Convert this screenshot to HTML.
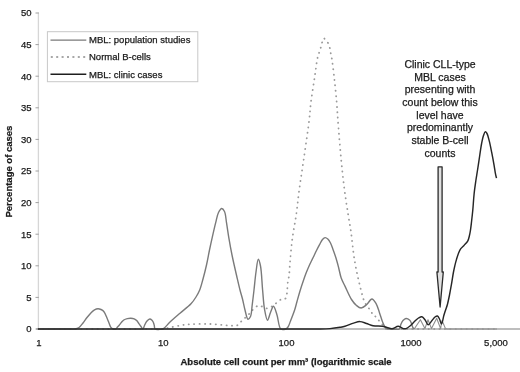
<!DOCTYPE html>
<html><head><meta charset="utf-8"><style>
html,body{margin:0;padding:0;background:#fff;}
svg{display:block;filter:grayscale(1);}
text{font-family:"Liberation Sans",sans-serif;fill:#1a1a1a;stroke:#1a1a1a;stroke-width:0.25px;}
.ax{font-size:9.5px;}
.lg{font-size:9.5px;}
.an{font-size:10.5px;}
.ti{font-size:9.5px;font-weight:bold;}
</style></head><body>
<svg width="520" height="372" viewBox="0 0 520 372">
<rect width="520" height="372" fill="#fff"/>
<line x1="38.4" y1="12.5" x2="38.4" y2="329" stroke="#d6d6d6" stroke-width="1.3"/>
<line x1="35.5" y1="329.0" x2="38.8" y2="329.0" stroke="#a0a0a0" stroke-width="1"/>
<text x="31.5" y="332.4" text-anchor="end" class="ax">0</text>
<line x1="35.5" y1="297.4" x2="38.8" y2="297.4" stroke="#a0a0a0" stroke-width="1"/>
<text x="31.5" y="300.8" text-anchor="end" class="ax">5</text>
<line x1="35.5" y1="265.8" x2="38.8" y2="265.8" stroke="#a0a0a0" stroke-width="1"/>
<text x="31.5" y="269.2" text-anchor="end" class="ax">10</text>
<line x1="35.5" y1="234.2" x2="38.8" y2="234.2" stroke="#a0a0a0" stroke-width="1"/>
<text x="31.5" y="237.6" text-anchor="end" class="ax">15</text>
<line x1="35.5" y1="202.6" x2="38.8" y2="202.6" stroke="#a0a0a0" stroke-width="1"/>
<text x="31.5" y="206.0" text-anchor="end" class="ax">20</text>
<line x1="35.5" y1="171.0" x2="38.8" y2="171.0" stroke="#a0a0a0" stroke-width="1"/>
<text x="31.5" y="174.4" text-anchor="end" class="ax">25</text>
<line x1="35.5" y1="139.4" x2="38.8" y2="139.4" stroke="#a0a0a0" stroke-width="1"/>
<text x="31.5" y="142.8" text-anchor="end" class="ax">30</text>
<line x1="35.5" y1="107.8" x2="38.8" y2="107.8" stroke="#a0a0a0" stroke-width="1"/>
<text x="31.5" y="111.2" text-anchor="end" class="ax">35</text>
<line x1="35.5" y1="76.2" x2="38.8" y2="76.2" stroke="#a0a0a0" stroke-width="1"/>
<text x="31.5" y="79.6" text-anchor="end" class="ax">40</text>
<line x1="35.5" y1="44.6" x2="38.8" y2="44.6" stroke="#a0a0a0" stroke-width="1"/>
<text x="31.5" y="48.0" text-anchor="end" class="ax">45</text>
<line x1="35.5" y1="13.0" x2="38.8" y2="13.0" stroke="#a0a0a0" stroke-width="1"/>
<text x="31.5" y="16.4" text-anchor="end" class="ax">50</text>

<line x1="36" y1="329" x2="520" y2="329" stroke="#a8a8a8" stroke-width="1.5"/>
<text x="38.8" y="346.3" text-anchor="middle" class="ax">1</text>
<text x="163.2" y="346.3" text-anchor="middle" class="ax">10</text>
<text x="286.5" y="346.3" text-anchor="middle" class="ax">100</text>
<text x="411" y="346.3" text-anchor="middle" class="ax">1000</text>
<text x="496" y="346.3" text-anchor="middle" class="ax">5,000</text>

<path d="M414.2,329.0 L420.4,319.7 L424.9,328.6 L428.0,319.7 L431.5,328.6 L436.7,318.3 L440.6,328.6 L442.0,320.5 L445.5,328.6 L447.0,329.0 L497.0,329.0" fill="none" stroke="#8e8e8e" stroke-width="1.1" stroke-linejoin="round"/>

<path d="M38.00,329.00 C78.67,329.00 148.97,329.00 160.00,329.00 C161.73,329.00 161.88,329.11 163.00,329.00 C164.46,328.86 165.98,328.41 168.00,328.00 C171.14,327.36 176.07,326.14 180.00,325.50 C183.73,324.89 186.83,324.47 191.00,324.20 C196.47,323.85 203.85,323.78 210.00,324.00 C215.83,324.21 222.91,325.12 227.00,325.40 C229.30,325.56 230.64,325.72 232.40,325.70 C234.07,325.68 235.92,325.94 237.30,325.30 C238.64,324.68 239.41,323.14 240.60,322.00 C241.95,320.72 243.55,319.37 245.00,318.00 C246.48,316.61 248.06,315.14 249.40,313.70 C250.64,312.37 251.45,310.96 252.80,309.70 C254.33,308.27 256.48,306.08 258.20,305.70 C259.51,305.41 260.72,306.08 262.00,306.50 C263.39,306.95 264.83,308.35 266.20,308.40 C267.49,308.45 268.75,307.46 270.00,307.00 C271.22,306.56 272.44,306.44 273.60,305.70 C275.03,304.79 276.20,302.75 277.70,301.60 C279.15,300.49 280.91,299.44 282.40,298.90 C283.59,298.47 285.03,299.04 285.80,298.30 C286.78,297.36 286.69,295.02 287.00,292.90 C287.44,289.93 287.38,285.18 287.80,282.10 C288.11,279.77 288.67,278.44 289.00,276.00 C289.49,272.39 289.55,267.65 290.00,262.50 C290.60,255.60 291.35,246.34 292.40,238.30 C293.45,230.24 295.17,222.25 296.30,214.20 C297.43,206.15 298.07,198.49 299.20,190.00 C300.46,180.53 302.06,170.72 303.60,160.00 C305.37,147.63 307.94,130.63 309.20,120.00 C310.03,112.99 310.13,108.79 310.90,102.50 C311.81,95.07 313.37,85.95 314.50,78.30 C315.52,71.40 316.49,62.86 317.40,58.60 C317.85,56.51 318.21,55.60 318.70,54.00 C319.24,52.24 319.96,50.33 320.50,48.50 C321.03,46.70 321.32,44.83 321.90,43.10 C322.46,41.43 323.12,38.40 323.90,38.30 C324.53,38.22 325.27,40.18 326.00,41.00 C326.68,41.77 327.50,42.14 328.10,43.10 C328.94,44.45 329.55,46.86 330.00,48.70 C330.42,50.42 330.50,52.13 330.80,53.80 C331.10,55.43 331.44,56.45 331.80,58.60 C332.52,62.93 333.52,71.39 334.30,78.30 C335.16,85.95 336.08,95.08 336.70,102.50 C337.23,108.80 337.37,112.98 337.90,120.00 C338.70,130.62 340.01,147.63 341.20,160.00 C342.23,170.73 343.28,180.55 344.50,190.00 C345.60,198.51 346.94,206.76 348.10,214.20 C349.10,220.59 350.12,225.75 351.00,232.00 C351.97,238.91 352.77,247.90 353.60,253.90 C354.18,258.11 354.65,261.03 355.30,264.60 C355.95,268.20 356.72,271.81 357.50,275.40 C358.28,278.98 359.14,282.59 360.00,286.10 C360.84,289.52 361.76,293.37 362.60,296.20 C363.22,298.29 363.64,299.93 364.40,301.60 C365.12,303.18 366.02,304.59 367.00,306.00 C368.01,307.45 369.39,308.76 370.40,310.20 C371.38,311.59 372.47,314.40 373.00,314.50 C373.17,314.53 373.22,314.18 373.40,314.20 C373.98,314.27 375.50,316.75 376.60,318.00 C377.70,319.25 378.91,320.47 380.00,321.70 C381.04,322.87 382.01,324.00 383.00,325.20 C384.01,326.43 384.85,328.44 386.00,329.00 C386.91,329.44 387.29,329.00 389.00,329.00 C399.29,329.00 461.00,329.00 497.00,329.00" fill="none" stroke="#9a9a9a" stroke-width="1.8" stroke-dasharray="0.2 5.2" stroke-linecap="round"/>
<path d="M38.00,329.00 C48.67,329.00 63.96,329.00 70.00,329.00 C72.39,329.00 73.45,329.28 75.00,329.00 C76.43,328.74 77.76,328.35 79.00,327.50 C80.47,326.49 81.70,324.61 83.00,323.00 C84.38,321.29 85.62,319.25 87.00,317.50 C88.33,315.82 89.74,314.06 91.10,312.70 C92.24,311.56 93.29,310.47 94.50,309.80 C95.60,309.19 96.87,308.72 98.00,308.70 C99.04,308.68 100.06,309.05 101.00,309.50 C101.99,309.97 102.94,310.48 103.80,311.50 C105.10,313.03 106.25,316.35 107.20,318.50 C107.99,320.29 108.58,321.97 109.20,323.50 C109.73,324.80 110.00,326.15 110.70,327.10 C111.31,327.93 112.13,328.69 113.00,329.00 C113.84,329.30 115.04,329.35 115.80,329.00 C116.53,328.66 116.92,327.64 117.50,327.00 C118.06,326.38 118.61,325.89 119.20,325.20 C119.93,324.36 120.71,323.19 121.50,322.30 C122.24,321.47 122.88,320.61 123.80,320.00 C124.79,319.35 126.11,318.90 127.30,318.60 C128.45,318.31 129.64,318.16 130.80,318.20 C131.94,318.23 133.20,318.38 134.20,318.80 C135.15,319.20 135.96,319.86 136.70,320.60 C137.50,321.40 138.09,322.53 138.80,323.50 C139.52,324.49 140.29,325.55 141.00,326.50 C141.65,327.37 142.33,329.07 142.90,329.00 C143.55,328.92 143.97,326.47 144.60,325.20 C145.26,323.87 145.87,322.26 146.80,321.20 C147.64,320.24 148.86,319.05 149.80,319.00 C150.58,318.96 151.41,319.74 152.00,320.30 C152.57,320.84 152.94,321.53 153.30,322.30 C153.73,323.22 154.02,324.40 154.30,325.50 C154.59,326.63 154.25,328.32 155.00,329.00 C155.86,329.77 158.18,329.42 159.60,329.40 C160.82,329.38 161.78,329.59 163.00,329.00 C165.08,327.99 167.42,324.42 170.00,322.00 C173.00,319.19 176.58,316.17 180.00,313.20 C183.57,310.11 188.17,306.84 191.00,303.80 C193.16,301.48 194.53,299.34 196.00,297.00 C197.42,294.73 198.61,292.66 199.70,290.00 C201.01,286.80 201.93,282.90 203.00,279.00 C204.20,274.63 205.43,269.76 206.50,265.00 C207.60,260.10 208.51,254.76 209.50,250.00 C210.41,245.67 211.22,241.93 212.20,237.60 C213.27,232.83 214.55,227.10 215.70,222.60 C216.65,218.89 217.22,215.01 218.50,212.50 C219.40,210.75 220.65,208.54 221.70,208.50 C222.64,208.46 223.77,210.04 224.50,211.50 C225.72,213.93 225.84,218.62 226.50,222.60 C227.27,227.22 227.93,232.42 228.80,237.60 C229.74,243.19 230.76,248.91 232.00,255.00 C233.38,261.80 235.34,270.17 236.80,276.50 C237.96,281.53 238.96,285.96 240.00,290.00 C240.85,293.31 241.70,295.84 242.50,299.00 C243.38,302.47 244.04,306.51 245.00,310.00 C245.89,313.25 246.79,319.04 248.00,319.30 C248.75,319.46 249.85,317.88 250.50,316.50 C251.64,314.06 251.65,309.09 252.20,305.00 C252.82,300.34 253.40,295.23 254.00,290.00 C254.66,284.27 255.20,277.47 256.00,272.00 C256.67,267.39 257.40,259.36 258.30,259.30 C258.96,259.25 259.89,263.03 260.50,266.00 C261.63,271.49 261.89,282.47 262.60,290.00 C263.23,296.70 263.50,303.53 264.50,309.00 C265.28,313.26 266.40,320.14 267.50,320.20 C268.43,320.25 269.45,314.91 270.50,312.50 C271.46,310.30 272.50,306.27 273.50,306.30 C274.67,306.34 275.90,311.72 277.00,315.00 C278.37,319.08 278.57,327.30 280.80,329.00 C282.08,329.98 284.34,329.46 285.60,329.00 C286.62,328.63 287.29,327.96 288.00,327.00 C289.02,325.61 289.58,323.33 290.50,321.00 C291.77,317.79 293.66,313.01 294.80,309.50 C295.73,306.61 296.20,304.35 297.00,301.50 C297.92,298.24 298.92,294.53 300.00,291.00 C301.11,287.37 302.46,283.30 303.60,280.00 C304.54,277.28 305.33,275.07 306.30,272.60 C307.29,270.07 308.37,267.48 309.50,265.00 C310.61,262.55 311.84,260.21 313.00,257.80 C314.17,255.38 315.34,252.81 316.50,250.50 C317.57,248.37 318.65,246.31 319.70,244.40 C320.65,242.67 321.44,240.68 322.50,239.50 C323.30,238.61 324.20,237.67 325.10,237.60 C325.97,237.53 326.98,238.27 327.80,239.00 C328.83,239.92 329.68,241.43 330.50,243.00 C331.52,244.96 332.32,247.60 333.20,250.00 C334.12,252.52 335.04,255.04 335.90,257.80 C336.85,260.84 337.73,264.20 338.60,267.50 C339.50,270.92 340.05,274.75 341.20,278.00 C342.26,281.01 343.62,283.30 345.10,286.40 C346.95,290.29 349.28,296.08 351.50,299.50 C353.12,302.01 354.72,304.04 356.50,305.50 C357.96,306.70 359.51,308.03 361.10,308.00 C362.84,307.97 364.79,306.17 366.50,304.80 C368.42,303.26 370.21,298.98 371.90,299.00 C373.42,299.01 375.01,301.83 376.20,303.80 C377.62,306.15 378.36,309.45 379.40,312.40 C380.49,315.50 381.53,319.35 382.60,322.00 C383.40,323.97 384.00,325.79 385.00,327.00 C385.78,327.94 386.63,328.65 387.70,329.00 C388.91,329.40 390.38,329.00 392.00,329.00 C394.11,329.00 397.87,330.03 399.30,329.00 C400.45,328.17 400.18,325.93 400.80,324.50 C401.41,323.10 402.06,321.52 403.00,320.50 C403.84,319.59 404.93,318.60 406.00,318.50 C407.10,318.40 408.61,319.22 409.50,320.00 C410.35,320.75 410.78,321.87 411.30,323.00 C411.90,324.30 412.19,326.34 412.80,327.40 C413.21,328.12 413.73,328.47 414.20,329.00" fill="none" stroke="#7a7a7a" stroke-width="1.4"/>
<path d="M38.00,329.00 C130.67,329.00 296.15,329.00 316.00,329.00 C318.38,329.00 318.37,329.03 320.00,329.00 C322.58,328.95 326.67,328.88 330.00,328.60 C333.34,328.32 337.24,327.75 340.00,327.30 C341.96,326.98 343.13,326.83 345.00,326.30 C347.51,325.59 350.92,323.91 353.60,323.10 C355.87,322.42 357.87,321.54 360.00,321.60 C362.17,321.66 364.34,322.82 366.50,323.50 C368.67,324.19 370.60,325.23 373.00,325.70 C375.81,326.26 379.84,325.89 382.40,326.30 C384.22,326.59 385.43,327.09 387.00,327.50 C388.63,327.92 390.26,328.92 392.00,328.80 C394.00,328.66 396.31,326.14 398.30,326.20 C400.13,326.25 402.05,328.40 403.50,328.70 C404.46,328.90 405.11,328.88 406.00,328.60 C407.23,328.21 408.68,327.07 410.00,326.00 C411.52,324.77 413.02,322.88 414.50,321.50 C415.85,320.24 417.15,318.81 418.50,318.00 C419.62,317.33 420.86,316.48 421.90,316.70 C423.04,316.94 424.02,318.59 425.00,319.80 C426.13,321.20 427.02,324.61 428.20,324.70 C429.36,324.79 430.82,321.84 432.00,320.50 C433.07,319.29 433.96,317.75 435.00,317.00 C435.78,316.43 436.70,315.80 437.40,316.00 C438.24,316.24 438.87,317.83 439.50,319.00 C440.27,320.42 440.86,324.04 441.50,324.00 C442.34,323.95 443.14,317.74 443.90,315.20 C444.49,313.23 445.03,311.76 445.60,310.00 C446.19,308.19 446.83,306.60 447.40,304.50 C448.14,301.78 448.85,298.24 449.50,295.00 C450.18,291.62 450.77,288.20 451.40,284.60 C452.07,280.72 452.76,275.94 453.40,272.50 C453.88,269.93 454.28,268.00 454.80,265.80 C455.31,263.64 455.87,261.52 456.50,259.40 C457.14,257.26 457.81,254.89 458.60,253.00 C459.27,251.40 459.88,249.98 460.80,248.70 C461.69,247.45 462.91,246.59 464.00,245.40 C465.21,244.08 466.80,242.71 467.70,241.10 C468.59,239.51 468.94,237.62 469.40,235.80 C469.88,233.92 470.17,232.09 470.50,230.00 C470.88,227.55 471.16,224.94 471.50,222.00 C471.92,218.41 472.39,214.29 472.80,210.00 C473.27,205.05 473.56,199.05 474.10,194.00 C474.58,189.44 475.19,185.24 475.80,181.00 C476.39,176.92 477.06,173.16 477.70,169.00 C478.39,164.51 479.12,159.44 479.80,155.00 C480.42,150.98 480.92,146.97 481.60,143.50 C482.17,140.58 482.74,137.63 483.50,135.50 C484.04,134.00 484.62,131.91 485.30,131.80 C485.82,131.71 486.48,132.64 487.00,133.50 C487.94,135.06 488.58,138.30 489.30,141.10 C490.17,144.48 490.92,148.50 491.70,152.40 C492.53,156.55 493.44,161.49 494.10,165.30 C494.62,168.31 494.94,171.06 495.40,173.40 C495.75,175.21 496.13,176.60 496.50,178.20" fill="none" stroke="#262626" stroke-width="1.45"/>
<!-- legend -->
<rect x="47.4" y="31.7" width="150.4" height="50" fill="#fff" stroke="#c8c8c8" stroke-width="1"/>
<line x1="50.5" y1="40.1" x2="86.3" y2="40.1" stroke="#7a7a7a" stroke-width="1.4"/>
<line x1="50.8" y1="57" x2="86" y2="57" stroke="#8a8a8a" stroke-width="1.6" stroke-dasharray="2 3.4"/>
<line x1="50.5" y1="74.3" x2="86.3" y2="74.3" stroke="#1e1e1e" stroke-width="1.6"/>
<text x="89" y="43.4" class="lg">MBL: population studies</text>
<text x="89" y="60.4" class="lg">Normal B-cells</text>
<text x="89" y="77.6" class="lg">MBL: clinic cases</text>
<!-- arrow -->
<path d="M438.1,166.8 L442.1,166.8 L442.1,272 L443.3,272 L440.1,307 L436.9,272 L438.1,272 Z" fill="#e0e0e0" stroke="#2a2a2a" stroke-width="1.3" stroke-linejoin="round"/>
<text x="440" y="68.0" text-anchor="middle" class="an">Clinic CLL-type</text>
<text x="440" y="80.7" text-anchor="middle" class="an">MBL cases</text>
<text x="440" y="93.4" text-anchor="middle" class="an">presenting with</text>
<text x="440" y="106.1" text-anchor="middle" class="an">count below this</text>
<text x="440" y="118.8" text-anchor="middle" class="an">level have</text>
<text x="440" y="131.4" text-anchor="middle" class="an">predominantly</text>
<text x="440" y="144.1" text-anchor="middle" class="an">stable B-cell</text>
<text x="440" y="156.8" text-anchor="middle" class="an">counts</text>

<text x="180.5" y="364.6" class="ti">Absolute cell count per mm³ (logarithmic scale</text>
<text transform="translate(12.2,217.5) rotate(-90)" class="ti">Percentage of cases</text>
</svg>
</body></html>
